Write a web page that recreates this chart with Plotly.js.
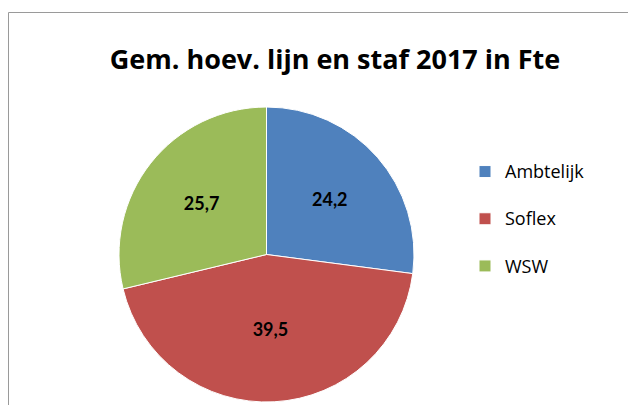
<!DOCTYPE html>
<html>
<head>
<meta charset="utf-8">
<script src="https://cdn.plot.ly/plotly-3.0.1.min.js"></script>
<style>html,body{margin:0;padding:0;background:#fff;}#chart{width:628px;height:405px;}</style>
</head>
<body>
<div id="chart"></div>
<script>
var categories = ['Ambtelijk', 'Soflex', 'WSW'];
var values = [24.2, 39.5, 25.7];
var colors = ['#4F81BD', '#C0504D', '#9BBB59'];
var chartTitle = 'Gem. hoev. lijn en staf 2017 in Fte';

var W = 628, H = 405;
var legendLabels = categories.map(function (c) {
  return '<span style="font-size:18px">' + c + '</span><br>\u00a0';
});

var trace = {
  type: 'pie',
  labels: legendLabels,
  values: values,
  sort: false,
  direction: 'clockwise',
  rotation: 0,
  marker: { colors: colors, line: { color: '#ffffff', width: 1 } },
  texttemplate: '%{value:.1f}',
  textposition: 'inside',
  insidetextorientation: 'horizontal',
  textfont: { family: 'Lato, sans-serif', size: 18, color: '#000000', weight: 'bold' },
  hoverinfo: 'none',
  domain: { x: [119 / W, 414 / W], y: [3 / H, 298 / H] }
};

var layout = {
  width: W, height: H,
  margin: { l: 0, r: 0, t: 0, b: 0 },
  paper_bgcolor: '#ffffff',
  separators: ',.',
  font: { family: 'Lato, sans-serif' },
  title: {
    text: '<b>' + chartTitle + '</b>',
    font: { family: '"Open Sans", sans-serif', size: 27, color: '#000000' },
    x: 335 / W, xanchor: 'center', xref: 'paper',
    y: 1 - 60 / H, yanchor: 'middle', yref: 'container'
  },
  showlegend: true,
  legend: {
    x: 465 / W, xanchor: 'left',
    y: 1 - 154 / H, yanchor: 'top',
    valign: 'top',
    font: { family: '"Open Sans", sans-serif', size: 17, color: '#000000' },
    bgcolor: 'rgba(0,0,0,0)'
  },
  shapes: [
    { type: 'line', xref: 'paper', yref: 'paper', x0: 8.5 / W, x1: 8.5 / W, y0: 0, y1: 1 - 12.5 / H,
      line: { color: '#9a9a9a', width: 1 } },
    { type: 'line', xref: 'paper', yref: 'paper', x0: 8.5 / W, x1: 1, y0: 1 - 12.5 / H, y1: 1 - 12.5 / H,
      line: { color: '#9a9a9a', width: 1 } }
  ]
};

Plotly.newPlot('chart', [trace], layout, { displayModeBar: false, staticPlot: true });
</script>
</body>
</html>
